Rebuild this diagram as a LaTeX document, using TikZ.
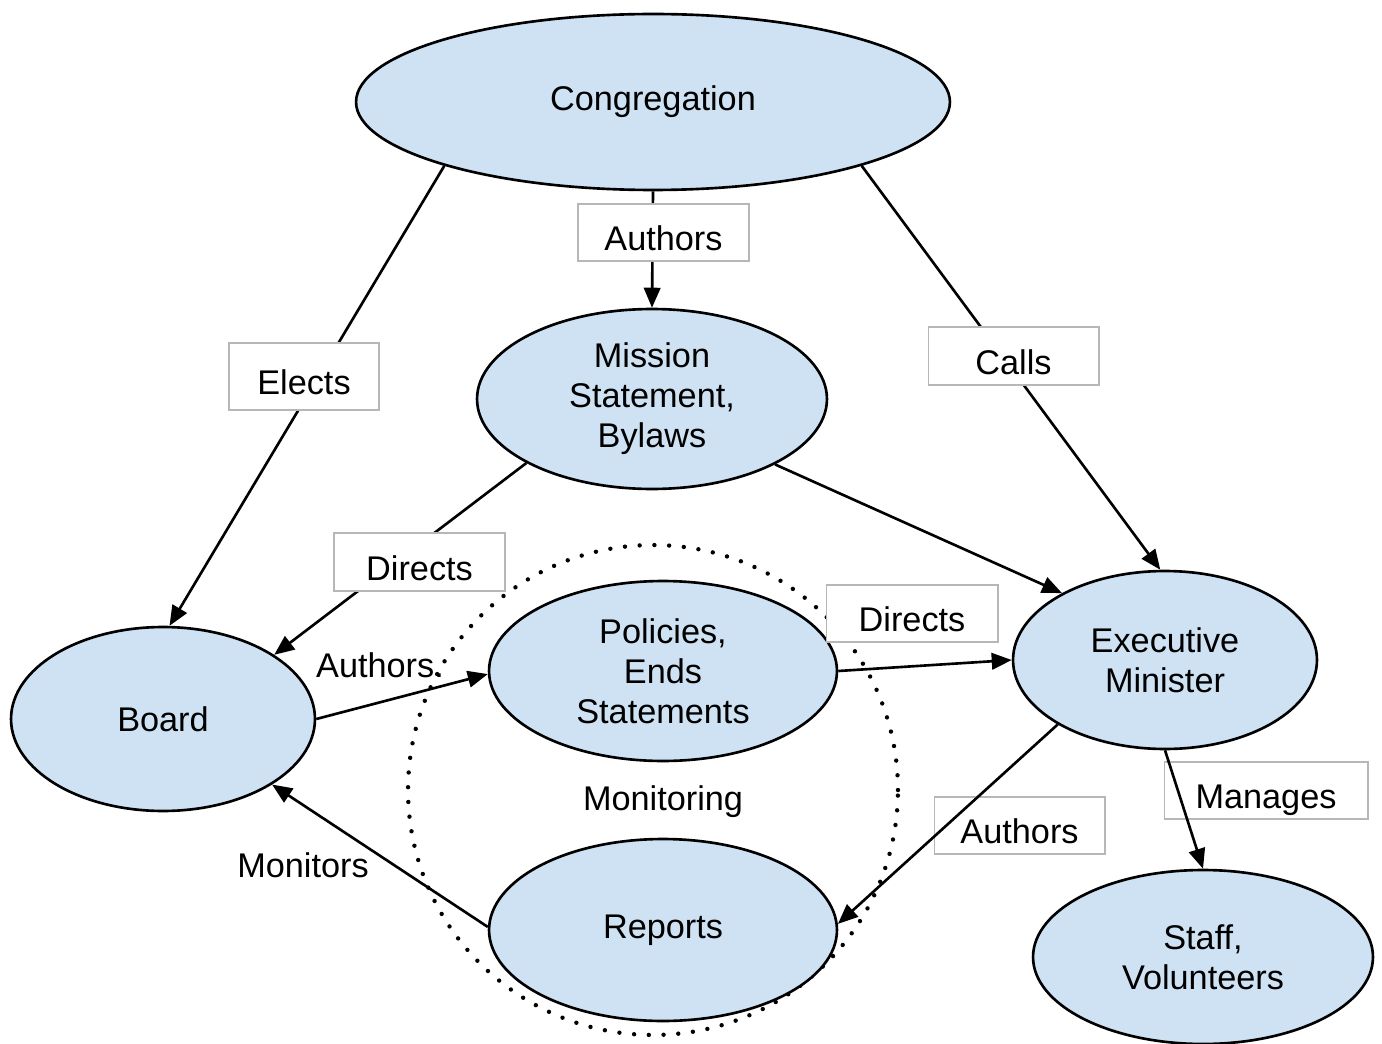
\documentclass[tikz,border=0pt]{standalone}
\usepackage{fontspec}
\setmainfont{Liberation Sans}
\usetikzlibrary{shapes.geometric,arrows.meta}
\definecolor{ellfill}{HTML}{CFE2F3}
\definecolor{boxgray}{HTML}{B7B7B7}
\begin{document}
\begin{tikzpicture}[x=0.02cm,y=-0.02cm,
  font=\fontsize{19.5}{22.7}\selectfont,
  ell/.style={ellipse,draw=black,fill=ellfill,line width=1.5pt,inner sep=0pt,align=center},
  lbox/.style={draw=boxgray,fill=white,line width=0.6pt,inner sep=0pt,text height=21pt,text depth=0pt},
  arr/.style={line width=1.5pt,-{Triangle[length=0.4cm,width=0.33cm]}},
  plain/.style={inner sep=0pt,align=center}]
\useasboundingbox (0,0) rectangle (1382,1044);
% dotted monitoring circle
\node (circ) [circle,draw=black,line width=2.5pt,line cap=round,dash pattern=on 0pt off 0.295cm,minimum size=9.8cm,inner sep=0pt] at (653,790) {};
% ellipses
\node (cong) [ell,minimum width=11.88cm,minimum height=3.52cm] at (653,102) {Congregation};
\node (mis) [ell,minimum width=7.0cm,minimum height=3.6cm] at (652,399) {Mission\\Statement,\\Bylaws};
\node (board) [ell,minimum width=6.08cm,minimum height=3.68cm] at (163,719) {Board};
\node (pol) [ell,minimum width=6.96cm,minimum height=3.6cm] at (663,671) {Policies,\\Ends\\Statements};
\node (exec) [ell,minimum width=6.08cm,minimum height=3.56cm] at (1165,660) {Executive\\Minister};
\node (rep) [ell,minimum width=6.96cm,minimum height=3.64cm] at (663,930) {Reports};
\node (staff) [ell,minimum width=6.8cm,minimum height=3.48cm] at (1203,957) {Staff,\\Volunteers};
% label boxes that the connectors cross
\node (lauth2) [lbox,minimum width=3.42cm,minimum height=1.14cm] at (1019.5,825.5) {Authors};
\node (lman) [lbox,minimum width=4.08cm,minimum height=1.14cm] at (1266,790.5) {Manages};
% connectors
\draw[arr] (cong.south) -- (mis.north);
\draw[arr] (cong.197) -- (board.86);
\draw[arr] (cong.343) -- (exec.93);
\draw[arr] (mis.207.7) -- (board.30.5);
\draw[arr] (mis.332.7) -- (exec.147.8);
\draw[arr] (board.east) -- (pol.181);
\draw[arr] (pol.east) -- (exec.west);
\draw[arr] (exec.211.8) -- (rep.2);
\draw[arr] (exec.south) -- (staff.north);
\draw[arr] (rep.179) -- (board.329);
% labels
\node (lauth1) [lbox,minimum width=3.42cm,minimum height=1.14cm] at (663.5,232.5) {Authors};
\node (lelect) [lbox,minimum width=3.0cm,minimum height=1.34cm] at (304,376.5) {Elects};
\node (lcalls) [lbox,minimum width=3.42cm,minimum height=1.16cm] at (1013.5,356) {Calls};
\node (ldir1) [lbox,minimum width=3.42cm,minimum height=1.16cm] at (419.5,562) {Directs};
\node (ldir2) [lbox,minimum width=3.44cm,minimum height=1.14cm] at (912,613.5) {Directs};
\node (lauth3) [plain] at (380,665) {Authors.};
\node (lmons) [plain] at (303,865) {Monitors};
\node (lmoning) [plain] at (663,802) {Monitoring};
\end{tikzpicture}
\end{document}
